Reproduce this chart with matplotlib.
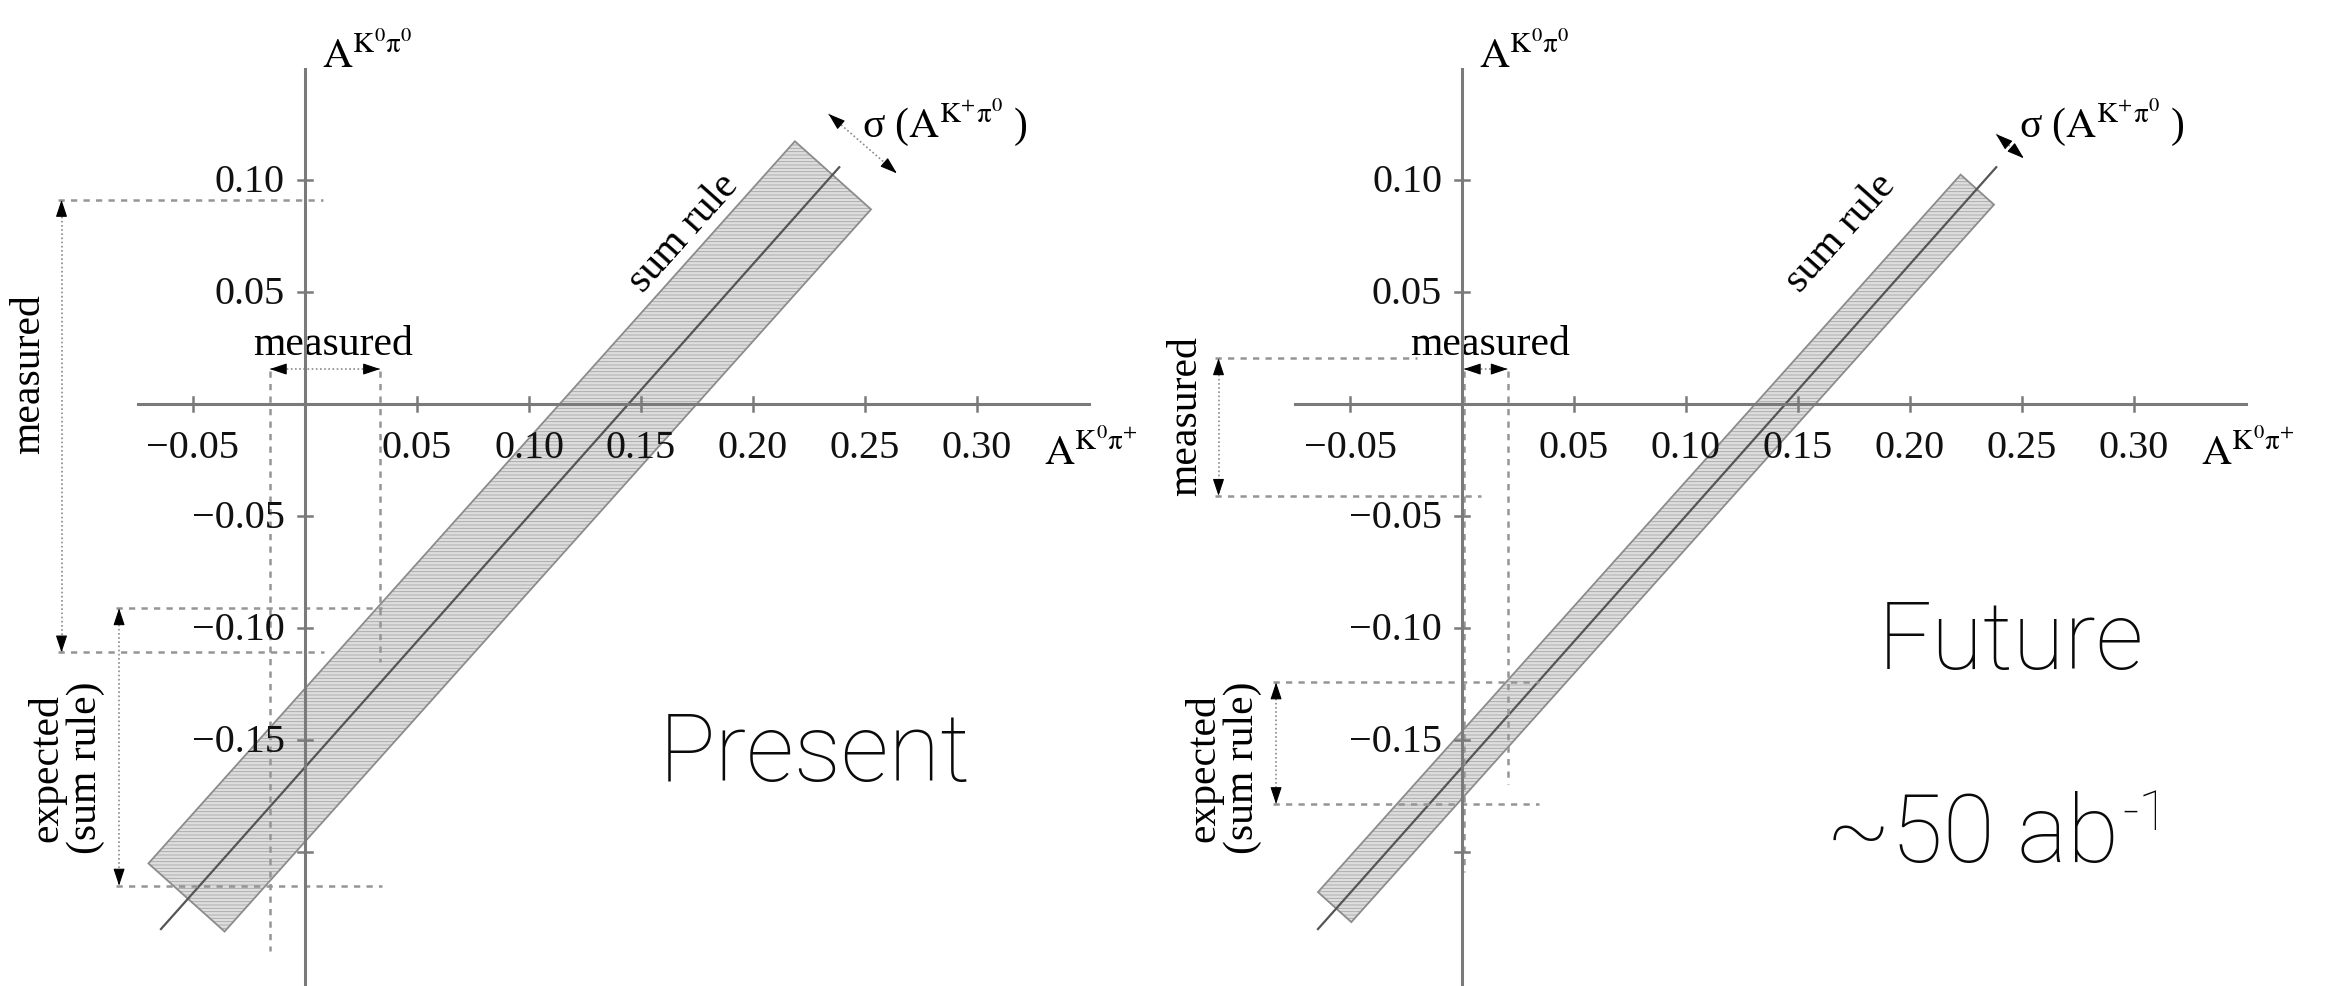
import matplotlib
matplotlib.use('Agg')
import matplotlib.pyplot as plt
from matplotlib.patches import Polygon
import numpy as np

plt.rcParams['font.family'] = ['Liberation Serif', 'DejaVu Serif']
plt.rcParams['mathtext.fontset'] = 'stix'
plt.rcParams['mathtext.default'] = 'rm'
plt.rcParams['hatch.linewidth'] = 0.6

# ---- data ----
xticks = [-0.05, 0.05, 0.10, 0.15, 0.20, 0.25, 0.30]
xtick_labels = ['\u22120.05', '0.05', '0.10', '0.15', '0.20', '0.25', '0.30']
yticks = [0.10, 0.05, -0.05, -0.10, -0.15, -0.20]
ytick_labels = ['0.10', '0.05', '\u22120.05', '\u22120.10', '\u22120.15', '']
axis_x_range = [-0.0746, 0.350]
axis_y_range = [-0.262, 0.1496]

# sum rule central line (same in both panels)
sum_rule_x = [-0.0643, 0.2385]
sum_rule_y = [-0.2344, 0.1057]

# sum rule bands (corners)
band_present_x = [-0.0699, -0.0359, 0.2527, 0.2187]
band_present_y = [-0.2051, -0.2355, 0.0869, 0.1173]
band_future_x = [-0.0643, -0.0494, 0.2375, 0.2226]
band_future_y = [-0.2179, -0.2313, 0.0890, 0.1024]

# sigma(A^{K+pi0}) arrows
sigma_present_x = [0.2337, 0.2642]
sigma_present_y = [0.1295, 0.1030]
sigma_future_x = [0.2384, 0.2508]
sigma_future_y = [0.1205, 0.1097]

# measured / expected ranges
meas_y_present = [0.0911, -0.1109]
meas_x_present = [-0.0157, 0.0335]
exp_y_present = [-0.0912, -0.2150]
meas_y_future = [0.0204, -0.0410]
meas_x_future = [0.0008, 0.0204]
exp_y_future = [-0.1243, -0.1786]

# ---- layout ----
W, H = 2333, 987
SCALE = 2240.0   # px per unit
Y0 = 405         # px of x-axis from top
AXC = '#7a7a7a'
DASH = '#959595'

fig = plt.figure(figsize=(W / 100, H / 100), dpi=100)


def make_ax(x0, x1, ox):
    ax = fig.add_axes([x0 / W, 0, (x1 - x0) / W, 1])
    ax.set_xlim((x0 - ox) / SCALE, (x1 - ox) / SCALE)
    ax.set_ylim((Y0 - H) / SCALE, Y0 / SCALE)
    ax.axis('off')
    return ax


def double_arrow(ax, x, y):
    ax.plot(x, y, color='#8a8a8a', lw=1.2, ls=(0, (1, 1.5)), zorder=3)
    p0 = np.array([x[0], y[0]])
    p1 = np.array([x[1], y[1]])
    u = (p1 - p0) / np.hypot(*(p1 - p0))
    head = 15 / SCALE
    for tip, d in ((p0, u), (p1, -u)):
        ax.annotate('', xy=tip, xytext=tip + d * head,
                    arrowprops=dict(arrowstyle='-|>,head_length=0.75,head_width=0.25',
                                    color='k', lw=0.8, shrinkA=0, shrinkB=0,
                                    mutation_scale=14), zorder=4)


def dashed(ax, x, y):
    ax.plot(x, y, color=DASH, lw=1.8, ls=(0, (2.5, 2.5)), zorder=2)


def draw_panel(ax, band_x, band_y, sig_x, sig_y, my, mx, ey, vline_ends, top_ext, my_lab):
    t = 7 / SCALE
    # axes
    ax.plot(axis_x_range, [0, 0], color=AXC, lw=2.2, zorder=5)
    ax.plot([0, 0], axis_y_range, color=AXC, lw=2.2, zorder=5)
    for xt, lab in zip(xticks, xtick_labels):
        ax.plot([xt, xt], [-t, t], color=AXC, lw=1.8, zorder=5)
        ax.text(xt, -25 / SCALE, lab, ha='center', va='top', fontsize=29, color='#111111')
    for yt, lab in zip(yticks, ytick_labels):
        ax.plot([-t, t], [yt, yt], color=AXC, lw=1.8, zorder=5)
        ax.text(-20 / SCALE, yt - 2 / SCALE, lab, ha='right', va='center', fontsize=29,
                color='#111111')
    ax.text(0.0074, 0.1504, r'$\mathrm{A}^{\mathrm{K}^{0}\pi^{0}}$', fontsize=30, va='baseline')
    ax.text(0.330, -0.0268, r'$\mathrm{A}^{\mathrm{K}^{0}\pi^{+}}$', fontsize=30, va='baseline')

    # band
    pts = np.column_stack([band_x, band_y])
    ax.add_patch(Polygon(pts, closed=True, facecolor='#dedede', edgecolor='#a5a5a5',
                         hatch='-----', lw=0, zorder=1))
    ax.add_patch(Polygon(pts, closed=True, fill=False, edgecolor='#8c8c8c', lw=1.3, zorder=1.5))
    ax.plot(sum_rule_x, sum_rule_y, color='#555555', lw=1.6, zorder=1.6)
    ax.text(0.1692, 0.0768, 'sum rule', rotation=48.2, rotation_mode='anchor',
            ha='center', va='center', fontsize=30)
    double_arrow(ax, sig_x, sig_y)
    ax.text(0.2487, 0.1196, r'\u03c3 ($\mathrm{A}^{\mathrm{K}^{+}\pi^{0}}\;$)'.replace('\\u03c3', '\u03c3'),
            fontsize=30, va='baseline')

    # measured A^{K0 pi0} (vertical)
    xa = -0.1087
    dashed(ax, [xa - 0.0015, top_ext], [my[0], my[0]])
    dashed(ax, [xa - 0.0015, 0.0085], [my[1], my[1]])
    double_arrow(ax, [xa, xa], my)
    ax.text(-0.1233, my_lab, 'measured', rotation=90, ha='center', va='center', fontsize=30)

    # measured A^{K0 pi+} (horizontal)
    dashed(ax, [mx[0], mx[0]], [0.0146, vline_ends[0]])
    dashed(ax, [mx[1], mx[1]], [0.0146, vline_ends[1]])
    double_arrow(ax, mx, [0.0156, 0.0156])
    ax.text(0.0127, 0.0268, 'measured', ha='center', va='center', fontsize=30)

    # expected from sum rule
    xe = -0.0830
    dashed(ax, [xe - 0.0012, 0.0342], [ey[0], ey[0]])
    dashed(ax, [xe - 0.0012, 0.0342], [ey[1], ey[1]])
    double_arrow(ax, [xe, xe], ey)
    ax.text(-0.1068, -0.162, 'expected\n(sum rule)', rotation=90, ha='center', va='center',
            fontsize=30, linespacing=1.0, multialignment='center')


big = dict(family=['Roboto', 'DejaVu Sans'], fontweight='light', fontsize=68, color='#0a0a0a')

ax1 = make_ax(0, 1156, 305)
draw_panel(ax1, band_present_x, band_present_y, sigma_present_x, sigma_present_y,
           meas_y_present, meas_x_present, exp_y_present, [-0.244, -0.1153], 0.0082, 0.014)
ax1.text(0.158, -0.168, 'Present', ha='left', va='baseline', **big)

ax2 = make_ax(1156, 2333, 1462)
draw_panel(ax2, band_future_x, band_future_y, sigma_future_x, sigma_future_y,
           meas_y_future, meas_x_future, exp_y_future, [-0.209, -0.1696], -0.020, -0.005)
ax2.text(0.1854, -0.118, 'Future', ha='left', va='baseline', **big)
t50 = ax2.text(0.1626, -0.204, '~50 ab', ha='left', va='baseline', **big)
ax2.annotate('-1', xy=(1, 1), xycoords=t50, xytext=(2, 2), textcoords='offset points',
             ha='left', va='top', family=['Roboto', 'DejaVu Sans'], fontweight='light',
             fontsize=40, color='#0a0a0a')

fig.savefig('out.png', dpi=100)
